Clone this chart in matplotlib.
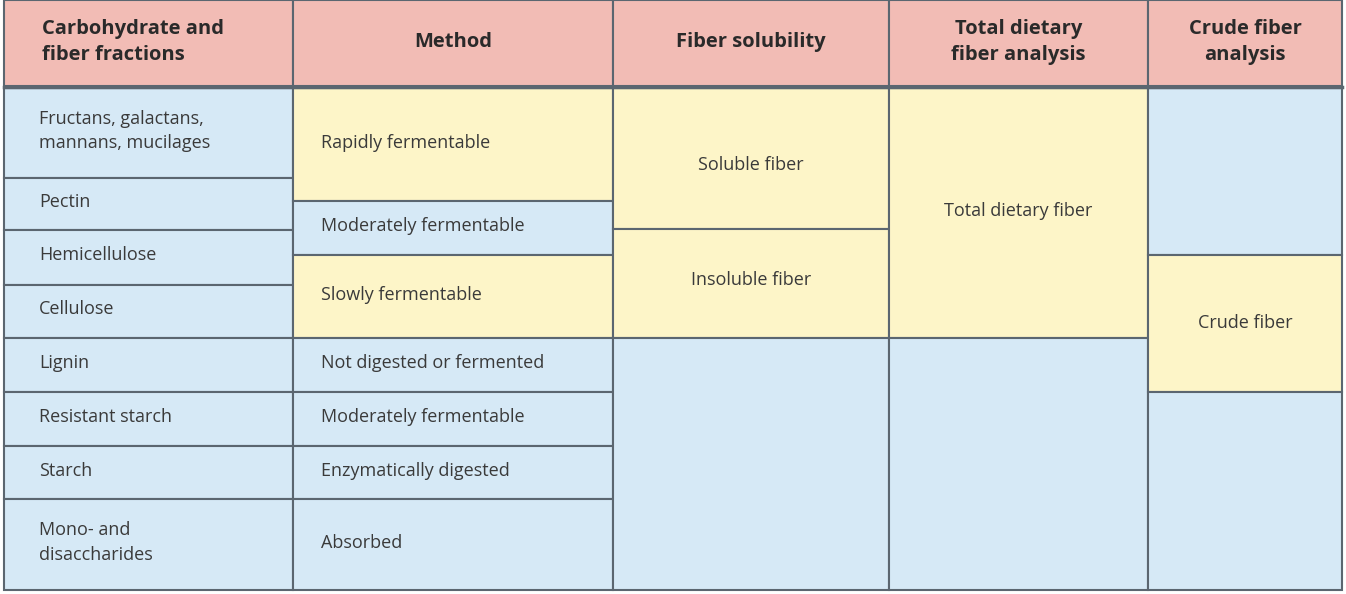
import matplotlib
matplotlib.use("Agg")
import matplotlib.pyplot as plt
from matplotlib.patches import Rectangle

headers = ["Carbohydrate and\nfiber fractions", "Method", "Fiber solubility",
           "Total dietary\nfiber analysis", "Crude fiber\nanalysis"]
col_edges = [4, 293, 613, 889, 1148, 1342]
header_band = (0, 86)

# each column: list of (top, bottom, label, kind)  kind: b=blue, y=yellow
col1 = [(88, 178, "Fructans, galactans,\nmannans, mucilages", "b"),
        (178, 230, "Pectin", "b"), (230, 285, "Hemicellulose", "b"),
        (285, 338, "Cellulose", "b"), (338, 392, "Lignin", "b"),
        (392, 446, "Resistant starch", "b"), (446, 499, "Starch", "b"),
        (499, 590, "Mono- and\ndisaccharides", "b")]
col2 = [(88, 201, "Rapidly fermentable", "y"), (201, 255, "Moderately fermentable", "b"),
        (255, 338, "Slowly fermentable", "y"), (338, 392, "Not digested or fermented", "b"),
        (392, 446, "Moderately fermentable", "b"), (446, 499, "Enzymatically digested", "b"),
        (499, 590, "Absorbed", "b")]
col3 = [(88, 229, "Soluble fiber", "y"), (229, 338, "Insoluble fiber", "y"), (338, 590, "", "b")]
col4 = [(88, 338, "Total dietary fiber", "y"), (338, 590, "", "b")]
col5 = [(88, 255, "", "b"), (255, 392, "Crude fiber", "y"), (392, 590, "", "b")]
columns = [col1, col2, col3, col4, col5]

colors = {"b": "#D6E9F6", "y": "#FDF5C8", "h": "#F2BCB5"}
edge = "#5B6670"

fig = plt.figure(figsize=(13.46, 5.94), dpi=100)
ax = fig.add_axes([0, 0, 1, 1])
ax.set_xlim(0, 1346); ax.set_ylim(594, 0); ax.axis("off")
fig.patch.set_facecolor("white")

for i, h in enumerate(headers):
    x0, x1 = col_edges[i], col_edges[i + 1]
    ax.add_patch(Rectangle((x0, header_band[0]), x1 - x0, header_band[1] - header_band[0],
                           fc=colors["h"], ec=edge, lw=1.5))
    ax.text((x0 + x1) / 2 if i else x0 + 38, 42, h, ha="center" if i else "left", va="center",
            fontsize=14.5, fontweight="bold", family="Open Sans", color="#2a2a2a", linespacing=1.35)
ax.plot([col_edges[0], col_edges[-1]], [87, 87], color=edge, lw=2.5)

for i, col in enumerate(columns):
    x0, x1 = col_edges[i], col_edges[i + 1]
    for top, bot, label, kind in col:
        ax.add_patch(Rectangle((x0, top), x1 - x0, bot - top, fc=colors[kind], ec=edge, lw=1.5))
        if label:
            if i < 2:
                ax.text(x0 + 35 if i == 0 else x0 + 28, (top + bot) / 2 - 2, label, ha="left", va="center",
                        fontsize=13, family="Open Sans", color="#3a3a3a", linespacing=1.45)
            else:
                ty = (top + bot) / 2 if i != 3 else 211
                ty = 165 if label == "Soluble fiber" else (280 if label == "Insoluble fiber" else ty)
                ax.text((x0 + x1) / 2, ty, label, ha="center", va="center",
                        fontsize=13, family="Open Sans", color="#3a3a3a")

fig.savefig("out.png", dpi=100)
